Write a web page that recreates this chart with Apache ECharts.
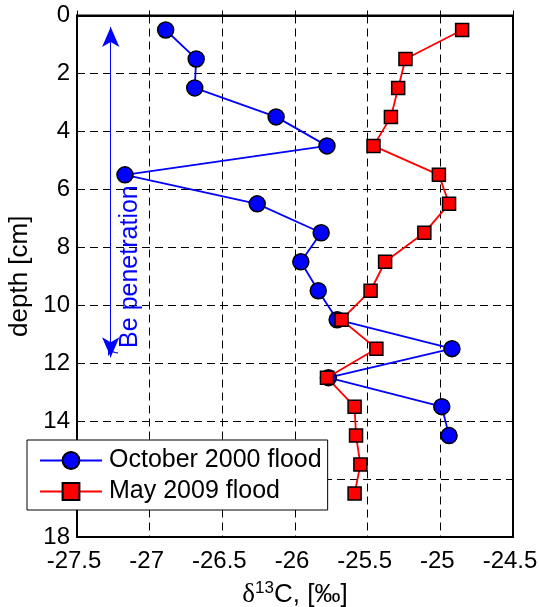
<!DOCTYPE html>
<html><head><meta charset="utf-8">
<script src="https://cdn.jsdelivr.net/npm/echarts@6/dist/echarts.min.js"></script>
<style>html,body{margin:0;padding:0;background:#fff}#c{width:539px;height:607px}</style>
</head><body><div id="c"></div>
<script>
// ---- data ----
const depthOct2000 = [0.5,1.5,2.5,3.5,4.5,5.5,6.5,7.5,8.5,9.5,10.5,11.5,12.5,13.5,14.5];
const d13cOct2000  = [-26.89,-26.68,-26.69,-26.13,-25.78,-27.17,-26.26,-25.82,-25.96,-25.84,-25.71,-24.92,-25.77,-24.99,-24.94];
const depthMay2009 = [0.5,1.5,2.5,3.5,4.5,5.5,6.5,7.5,8.5,9.5,10.5,11.5,12.5,13.5,14.5,15.5,16.5];
const d13cMay2009  = [-24.85,-25.24,-25.29,-25.34,-25.46,-25.01,-24.94,-25.11,-25.38,-25.48,-25.68,-25.44,-25.78,-25.59,-25.58,-25.55,-25.59];
const seriesNames = ['October 2000 flood','May 2009 flood'];
const xRange = [-27.5, -24.5], xStep = 0.5;
const yRange = [0, 18], yStep = 2;

const FONT = "'Liberation Sans', Arial, Helvetica, sans-serif";
const pairs = (xs, ys) => xs.map((x, i) => [x, ys[i]]);

// annotation (7Be penetration arrow) in data coordinates
const arrowX = -27.268, arrowTop = 0.40, arrowBottom = 11.8;
const annotX = -27.132, annotY = 8.81;

const chart = echarts.init(document.getElementById('c'), null, {renderer: 'canvas'});
chart.setOption({
  animation: false,
  backgroundColor: '#fff',
  textStyle: {fontFamily: FONT},
  grid: {left: 77, right: 26, top: 15.5, bottom: 70, outerBoundsMode: 'none', containLabel: false,
         show: true, borderColor: '#000', borderWidth: 2, backgroundColor: 'transparent'},
  xAxis: {
    type: 'value', min: xRange[0], max: xRange[1], interval: xStep,
    axisLine: {show: true, lineStyle: {color: '#000', width: 2}},
    axisTick: {show: true, inside: true, length: 5, lineStyle: {color: '#000'}},
    axisLabel: {color: '#000', fontSize: 24, fontFamily: FONT, margin: 12, padding: [0, 6, 0, 0]},
    splitLine: {show: true, lineStyle: {color: '#000', width: 1, type: [8, 5]}},
    name: '{g|δ}{s|13}{a|C, [‰]}', nameLocation: 'middle', nameGap: 43,
    nameTextStyle: {color: '#000', fontSize: 26, fontFamily: FONT, rich: {
      g: {fontSize: 27, fontFamily: "'Liberation Serif', serif", color: '#000', lineHeight: 30},
      a: {fontSize: 26, fontFamily: FONT, color: '#000', lineHeight: 30},
      s: {fontSize: 17, fontFamily: FONT, color: '#000', lineHeight: 16, verticalAlign: 'top'}
    }}
  },
  yAxis: {
    type: 'value', min: yRange[0], max: yRange[1], interval: yStep, inverse: true,
    axisLine: {show: true, lineStyle: {color: '#000', width: 2}},
    axisTick: {show: true, inside: true, length: 5, lineStyle: {color: '#000'}},
    axisLabel: {color: '#000', fontSize: 24, fontFamily: FONT, margin: 7},
    splitLine: {show: true, lineStyle: {color: '#000', width: 1, type: [8, 5]}},
    name: 'depth [cm]', nameLocation: 'middle', nameGap: 43, nameRotate: 90,
    nameTextStyle: {color: '#000', fontSize: 26, fontFamily: FONT}
  },
  legend: {
    orient: 'vertical', left: 27, top: 440,
    data: seriesNames,
    backgroundColor: '#fff', borderColor: '#000', borderWidth: 1,
    padding: [8, 6, 6, 12], itemGap: 6, itemWidth: 62, itemHeight: 21,
    textStyle: {color: '#000', fontSize: 25, fontFamily: FONT, padding: [0, 0, 0, 2]}
  },
  series: [
    {
      name: seriesNames[0], type: 'line', data: pairs(d13cOct2000, depthOct2000),
      symbol: 'circle', symbolSize: 16,
      lineStyle: {color: '#0000ff', width: 1.8},
      itemStyle: {color: '#0000ff', borderColor: '#000', borderWidth: 1.5},
      markLine: {
        silent: true, symbol: ['arrow', 'arrow'], symbolSize: [13, 20],
        label: {show: false},
        lineStyle: {color: '#0000ff', width: 1, type: 'solid'},
        emphasis: {disabled: true},
        data: [[{coord: [arrowX, arrowTop]}, {coord: [arrowX, arrowBottom]}]]
      },
      z: 3
    },
    {
      name: seriesNames[1], type: 'line', data: pairs(d13cMay2009, depthMay2009),
      symbol: 'rect', symbolSize: 13,
      lineStyle: {color: '#ff0000', width: 1.8},
      itemStyle: {color: '#ff0000', borderColor: '#000', borderWidth: 1.5},
      z: 4
    }
  ]
});

const p = chart.convertToPixel({gridIndex: 0}, [annotX, annotY]);
chart.setOption({
  graphic: [{
    type: 'text', x: p[0], y: p[1], rotation: Math.PI / 2, z: 10,
    style: {
      text: '{s|7}{n|Be penetration}', align: 'center', verticalAlign: 'middle',
      fill: '#0000ff', font: "25px " + FONT,
      rich: {
        s: {fontSize: 15, fontFamily: FONT, fill: '#0000ff', lineHeight: 18, verticalAlign: 'top'},
        n: {fontSize: 25, fontFamily: FONT, fill: '#0000ff', lineHeight: 48}
      }
    }
  }]
});
</script></body></html>
